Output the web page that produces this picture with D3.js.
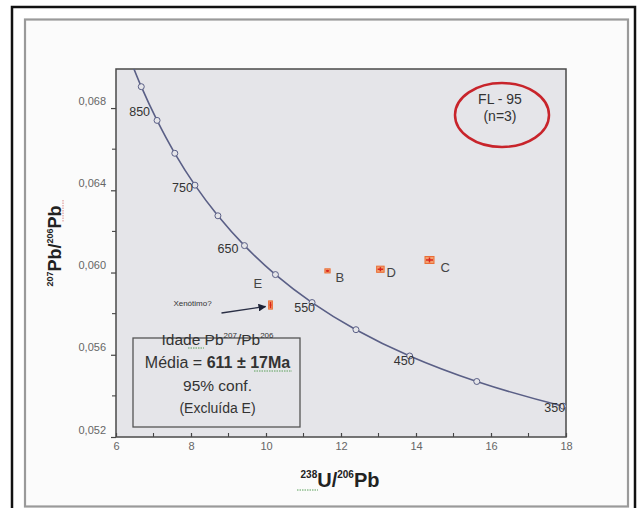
<!DOCTYPE html>
<html>
<head>
<meta charset="utf-8">
<script src="https://cdn.jsdelivr.net/npm/d3@7"></script>
<style>
  body { margin: 0; background: #fff; }
  svg { display: block; }
  text { font-family: "Liberation Sans", Arial, sans-serif; }
</style>
</head>
<body>
<svg id="chart" width="637" height="508"></svg>
<script>
// Tera-Wasserburg concordia reference points (age in Ma)
const concordiaAge   = [300, 350, 400, 450, 500, 550, 600, 650, 700, 750, 800, 850, 900, 950];
const concordiaU238  = [20.992, 17.923, 15.621, 13.831, 12.399, 11.228, 10.252, 9.426, 8.718, 8.105, 7.568, 7.095, 6.674, 6.298];
const concordiaPb207 = [0.05233, 0.05350, 0.05470, 0.05594, 0.05722, 0.05854, 0.05990, 0.06131, 0.06276, 0.06425, 0.06580, 0.06740, 0.06904, 0.07074];
const markedAges   = [350, 400, 450, 500, 550, 600, 650, 700, 750, 800, 850, 900];
const labelledAges = [350, 450, 550, 650, 750, 850];

// Analysed spots: 238U/206Pb, 207Pb/206Pb and their uncertainties
const spotName  = ["B", "D", "C", "E"];
const spotU238  = [11.64, 13.05, 14.36, 10.12];
const spotPb207 = [0.06008, 0.06016, 0.06061, 0.05842];
const spotErrU  = [0.07, 0.10, 0.12, 0.05];
const spotErrPb = [0.00010, 0.00015, 0.00017, 0.00020];

// Axis ticks
const xTickValues = [6, 8, 10, 12, 14, 16, 18];
const xMinorTicks = [7, 9, 11, 13, 15, 17];
const yTickValues = [0.052, 0.056, 0.060, 0.064, 0.068];
const yTickLabels = ["0,052", "0,056", "0,060", "0,064", "0,068"];
const yMinorTicks = [0.054, 0.058, 0.062, 0.066];

const svg = d3.select("#chart");
const plot = { left: 116, right: 566, top: 69, bottom: 437 };
const plotBg = "#e5e5e9";
const curveColor = "#5a5f86";

// Outer frames
svg.append("rect").attr("x", 12).attr("y", 7).attr("width", 623).attr("height", 510)
  .attr("fill", "#fff").attr("stroke", "#111").attr("stroke-width", 2.5);
svg.append("rect").attr("x", 25).attr("y", 19.5).attr("width", 603).attr("height", 487)
  .attr("fill", "#fbfbfb").attr("stroke", "#9a9a9a").attr("stroke-width", 2.2);

const x = d3.scaleLinear().domain([6, 18]).range([plot.left, plot.right]);
const y = d3.scaleLinear().domain([0.052, 0.0699]).range([plot.bottom, plot.top]);

// Plot area
svg.append("rect").attr("x", plot.left).attr("y", plot.top)
  .attr("width", plot.right - plot.left).attr("height", plot.bottom - plot.top)
  .attr("fill", plotBg);

svg.append("clipPath").attr("id", "plotClip").append("rect")
  .attr("x", plot.left).attr("y", plot.top)
  .attr("width", plot.right - plot.left).attr("height", plot.bottom - plot.top);

// Axes
const yAxis = svg.append("g").attr("transform", `translate(${plot.left},0)`)
  .call(d3.axisLeft(y).tickValues(yTickValues).tickFormat((d, i) => yTickLabels[i]).tickSize(5).tickSizeOuter(0));
yAxis.select(".domain").remove();
yAxis.selectAll(".tick line").attr("stroke", "#444").attr("stroke-width", 1.2);
yAxis.selectAll(".tick text").attr("x", -10).attr("dy", "-0.35em")
  .attr("fill", "#666").style("font-size", "11px").style("font-family", "'Liberation Sans', Arial, sans-serif");
svg.append("g").selectAll("line").data(yMinorTicks).join("line")
  .attr("x1", plot.left - 4).attr("x2", plot.left).attr("y1", d => y(d)).attr("y2", d => y(d))
  .attr("stroke", "#444").attr("stroke-width", 1.1);

const xAxis = svg.append("g").attr("transform", `translate(0,${plot.bottom})`)
  .call(d3.axisBottom(x).tickValues(xTickValues).tickSize(-4).tickSizeOuter(0));
xAxis.select(".domain").remove();
xAxis.selectAll(".tick line").attr("stroke", "#444").attr("stroke-width", 1.2);
xAxis.selectAll(".tick text").attr("y", 5).attr("dy", "0.75em")
  .attr("fill", "#666").style("font-size", "11px").style("font-family", "'Liberation Sans', Arial, sans-serif");
svg.append("g").selectAll("line").data(xMinorTicks).join("line")
  .attr("x1", d => x(d)).attr("x2", d => x(d)).attr("y1", plot.bottom - 4).attr("y2", plot.bottom)
  .attr("stroke", "#444").attr("stroke-width", 1.1);

// Plot frame
svg.append("rect").attr("x", plot.left).attr("y", plot.top)
  .attr("width", plot.right - plot.left).attr("height", plot.bottom - plot.top)
  .attr("fill", "none").attr("stroke", "#4a4a4a").attr("stroke-width", 1.5);

// Concordia curve
const concordia = concordiaAge.map((a, i) => ({ age: a, u: concordiaU238[i], pb: concordiaPb207[i] }));
const curveG = svg.append("g").attr("clip-path", "url(#plotClip)");
curveG.append("path")
  .datum(concordia)
  .attr("fill", "none").attr("stroke", curveColor).attr("stroke-width", 1.6)
  .attr("d", d3.line().x(d => x(d.u)).y(d => y(d.pb)).curve(d3.curveCatmullRom.alpha(0.5)));

const marks = concordia.filter(d => markedAges.includes(d.age));
curveG.selectAll("circle.age").data(marks).join("circle")
  .attr("class", "age")
  .attr("cx", d => x(d.u)).attr("cy", d => y(d.pb)).attr("r", 3)
  .attr("fill", plotBg).attr("stroke", curveColor).attr("stroke-width", 1);

// Age labels beside the concordia markers
const ageLabelNudge = { 850: [-7, -4], 750: [-2, 7], 650: [-6, 7], 550: [3, 9], 450: [5, 9], 350: [2, 6] };
curveG.selectAll("text.age").data(concordia.filter(d => labelledAges.includes(d.age))).join("text")
  .attr("class", "age")
  .attr("x", d => x(d.u) + ageLabelNudge[d.age][0])
  .attr("y", d => y(d.pb) + ageLabelNudge[d.age][1])
  .attr("text-anchor", "end").attr("fill", "#333").style("font-size", "12.5px")
  .text(d => d.age);

// Spot error boxes
const spots = spotName.map((n, i) => ({ name: n, u: spotU238[i], pb: spotPb207[i], eu: spotErrU[i], ep: spotErrPb[i] }));
const spotG = svg.append("g").selectAll("g").data(spots).join("g");
spotG.append("rect")
  .attr("x", d => x(d.u - d.eu)).attr("y", d => y(d.pb + d.ep))
  .attr("width", d => x(d.u + d.eu) - x(d.u - d.eu))
  .attr("height", d => y(d.pb - d.ep) - y(d.pb + d.ep))
  .attr("fill", "#f3a070").attr("stroke", "#ea6d34").attr("stroke-width", 1);
spotG.append("line")
  .attr("x1", d => x(d.u - d.eu) + 1).attr("x2", d => x(d.u + d.eu) - 1)
  .attr("y1", d => y(d.pb)).attr("y2", d => y(d.pb))
  .attr("stroke", "#d9261c").attr("stroke-width", 1.5);
spotG.append("line")
  .attr("x1", d => x(d.u)).attr("x2", d => x(d.u))
  .attr("y1", d => y(d.pb + d.ep) + 1).attr("y2", d => y(d.pb - d.ep) - 1)
  .attr("stroke", "#d9261c").attr("stroke-width", 1.5);

const spotLabelNudge = { B: [8, 11], D: [6, 8], C: [11, 12], E: [-17, -17] };
spotG.append("text")
  .attr("x", d => x(d.u) + spotLabelNudge[d.name][0])
  .attr("y", d => y(d.pb) + spotLabelNudge[d.name][1])
  .attr("fill", "#444").style("font-size", "13px")
  .text(d => d.name);

// Arrow pointing at spot E
const spotE = spots.find(d => d.name === "E");
svg.append("defs").append("marker")
  .attr("id", "arrowHead").attr("viewBox", "0 0 10 10").attr("refX", 9).attr("refY", 5)
  .attr("markerWidth", 6).attr("markerHeight", 6).attr("orient", "auto")
  .append("path").attr("d", "M0,0 L10,5 L0,10 z").attr("fill", "#1d2236");
svg.append("line")
  .attr("x1", x(spotE.u) - 49).attr("y1", y(spotE.pb) + 8)
  .attr("x2", x(spotE.u) - 5).attr("y2", y(spotE.pb) + 1.5)
  .attr("stroke", "#2a2f45").attr("stroke-width", 1.3).attr("marker-end", "url(#arrowHead)");
svg.append("text")
  .attr("x", x(spotE.u) - 78).attr("y", y(spotE.pb) + 1)
  .attr("text-anchor", "middle").attr("fill", "#333").style("font-size", "8px")
  .text("Xenótimo?");

// Mean age box
const box = { x: 133, y: 338, w: 167, h: 89 };
svg.append("rect").attr("x", box.x).attr("y", box.y).attr("width", box.w).attr("height", box.h)
  .attr("fill", plotBg).attr("stroke", "#555").attr("stroke-width", 1.3);
const cx = box.x + box.w / 2 + 1;
const line1 = svg.append("text").attr("x", cx).attr("y", 345).attr("text-anchor", "middle")
  .attr("fill", "#333").style("font-size", "15.5px");
line1.append("tspan").text("Idade Pb");
line1.append("tspan").attr("dy", -7).style("font-size", "8px").text("207");
line1.append("tspan").attr("dy", 7).text("/Pb");
line1.append("tspan").attr("dy", -7).style("font-size", "8px").text("206");
const line2 = svg.append("text").attr("x", cx).attr("y", 368).attr("text-anchor", "middle")
  .attr("fill", "#333").style("font-size", "16px");
line2.append("tspan").text("Média = ");
line2.append("tspan").style("font-weight", "bold").text("611 ± 17Ma");
svg.append("text").attr("x", cx).attr("y", 391).attr("text-anchor", "middle")
  .attr("fill", "#333").style("font-size", "15.5px").text("95% conf.");
svg.append("text").attr("x", cx).attr("y", 413).attr("text-anchor", "middle")
  .attr("fill", "#333").style("font-size", "14px").text("(Excluída E)");
// proofing underlines
svg.append("line").attr("x1", 188).attr("x2", 204).attr("y1", 348).attr("y2", 348)
  .attr("stroke", "#5aa05a").attr("stroke-width", 1).attr("stroke-dasharray", "1.5,1");
svg.append("line").attr("x1", 254).attr("x2", 292).attr("y1", 371).attr("y2", 371)
  .attr("stroke", "#5aa05a").attr("stroke-width", 1).attr("stroke-dasharray", "1.5,1");

// Sample tag
svg.append("ellipse").attr("cx", 502).attr("cy", 115).attr("rx", 47).attr("ry", 32)
  .attr("fill", "none").attr("stroke", "#c8242b").attr("stroke-width", 2.5);
svg.append("text").attr("x", 500).attr("y", 104).attr("text-anchor", "middle")
  .attr("fill", "#333").style("font-size", "14px").text("FL - 95");
svg.append("text").attr("x", 500).attr("y", 121).attr("text-anchor", "middle")
  .attr("fill", "#333").style("font-size", "14px").text("(n=3)");

// Axis titles
const xTitle = svg.append("text").attr("x", 340).attr("y", 487).attr("text-anchor", "middle")
  .attr("fill", "#222").style("font-size", "20px").style("font-weight", "bold");
xTitle.append("tspan").attr("dy", -9).style("font-size", "10px").text("238");
xTitle.append("tspan").attr("dy", 9).text("U/");
xTitle.append("tspan").attr("dy", -9).style("font-size", "10px").text("206");
xTitle.append("tspan").attr("dy", 9).text("Pb");
svg.append("line").attr("x1", 297).attr("x2", 318).attr("y1", 490).attr("y2", 490)
  .attr("stroke", "#5aa05a").attr("stroke-width", 1).attr("stroke-dasharray", "1.5,1");

const yTitle = svg.append("text").attr("transform", "translate(61,246) rotate(-90)")
  .attr("text-anchor", "middle").attr("fill", "#222").style("font-size", "18px").style("font-weight", "bold");
yTitle.append("tspan").attr("dy", -8).style("font-size", "9px").text("207");
yTitle.append("tspan").attr("dy", 8).text("Pb/");
yTitle.append("tspan").attr("dy", -8).style("font-size", "9px").text("206");
yTitle.append("tspan").attr("dy", 8).text("Pb");
svg.append("line").attr("x1", 63).attr("x2", 63).attr("y1", 200).attr("y2", 222)
  .attr("stroke", "#d98a8a").attr("stroke-width", 1).attr("stroke-dasharray", "1.5,1");
</script>
</body>
</html>
